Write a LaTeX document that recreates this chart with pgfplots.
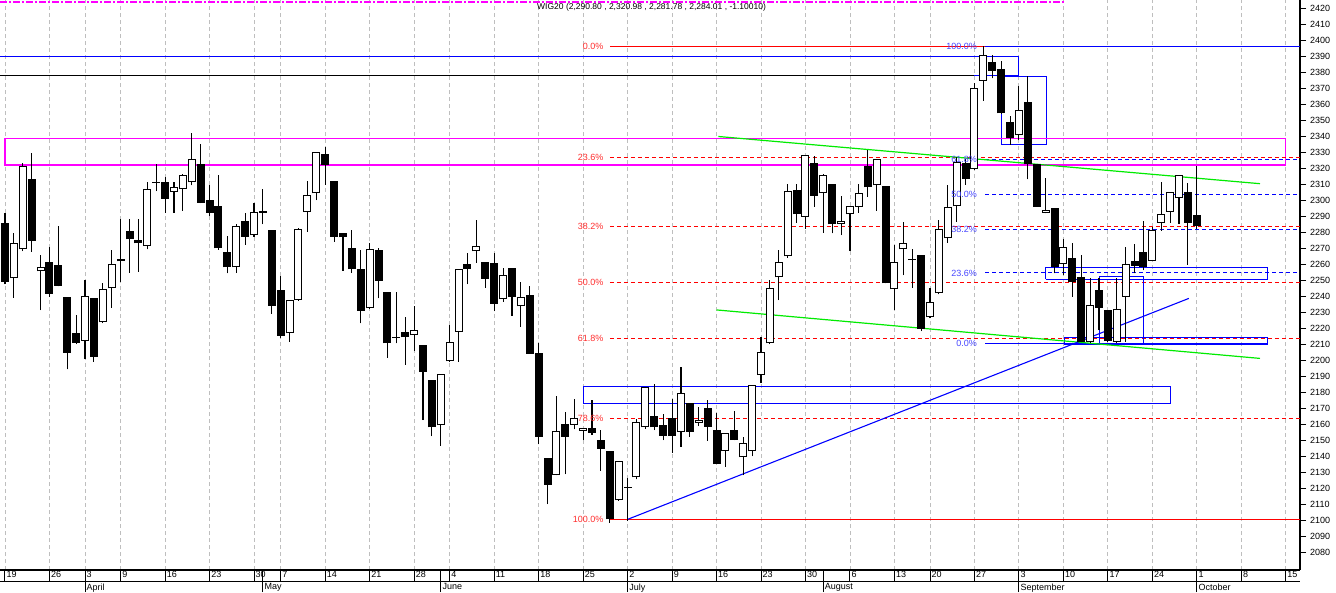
\documentclass[border=0pt]{standalone}
\usepackage{pgfplots}
\pgfplotsset{compat=1.18}
\usepackage{pgfplotstable}
\usepackage{fontspec}
\setmainfont{Liberation Sans}
\definecolor{gridgray}{RGB}{190,190,190}
\definecolor{mag}{RGB}{255,0,255}
\definecolor{grn}{RGB}{0,235,0}
\definecolor{fibred}{RGB}{255,45,45}
\definecolor{fibblue}{RGB}{70,70,255}

% black (falling) candles: index, open, high, low, close
\pgfplotstableread{
i O H L C
0 2285.4 2291.7 2247.5 2249.0
3 2312.9 2329.2 2267.7 2274.6
5 2261.2 2270.8 2239.6 2241.5
6 2259.4 2283.7 2246.0 2246.5
7 2239.4 2239.4 2194.2 2204.6
8 2217.1 2228.1 2210.0 2210.8
10 2238.7 2238.7 2199.0 2202.1
13 2263.2 2288.1 2249.0 2261.7
14 2280.6 2288.1 2254.6 2275.4
15 2275.0 2288.1 2255.2 2272.9
17 2311.4 2322.3 2305.6 2310.6
18 2311.0 2314.2 2292.0 2300.8
22 2322.3 2334.8 2298.0 2298.3
23 2300.0 2309.4 2290.2 2292.1
24 2296.2 2315.6 2269.0 2269.8
25 2267.5 2277.5 2254.2 2257.9
27 2286.9 2291.7 2271.9 2277.1
29 2292.9 2306.7 2285.0 2292.1
30 2281.2 2281.2 2229.0 2234.0
31 2243.7 2252.5 2213.5 2215.2
36 2328.7 2333.3 2309.4 2322.1
37 2311.9 2312.0 2274.0 2277.1
38 2279.2 2279.5 2255.8 2276.7
39 2269.8 2281.2 2254.6 2256.7
40 2256.7 2268.7 2222.9 2230.8
42 2268.5 2269.8 2238.5 2249.6
43 2242.3 2242.3 2201.5 2210.4
44 2214.4 2242.3 2210.4 2213.6
45 2217.3 2226.7 2196.9 2214.2
47 2209.4 2209.4 2162.5 2192.7
48 2187.5 2187.5 2152.5 2157.9
52 2260.0 2266.7 2247.5 2257.1
54 2261.0 2261.0 2245.2 2250.8
55 2260.4 2266.7 2230.6 2235.2
57 2257.3 2257.3 2227.7 2239.6
59 2240.6 2246.2 2204.0 2204.0
60 2204.4 2210.8 2147.3 2152.1
61 2138.5 2138.5 2110.0 2121.9
63 2159.8 2167.7 2128.7 2152.1
66 2157.3 2175.0 2153.3 2154.6
67 2150.0 2156.2 2130.8 2144.6
68 2143.1 2143.1 2098.3 2100.4
70 2120.8 2126.0 2099.6 2120.0
73 2165.0 2185.0 2156.2 2157.9
74 2159.4 2166.2 2150.0 2152.7
75 2164.0 2175.4 2142.1 2152.7
77 2172.9 2173.0 2152.0 2155.2
79 2169.8 2175.0 2149.6 2158.3
80 2156.2 2167.0 2135.0 2135.0
82 2156.2 2168.0 2150.0 2150.0
89 2306.2 2310.0 2285.8 2291.0
91 2322.9 2327.5 2295.8 2302.7
93 2310.0 2310.0 2279.2 2284.8
97 2321.2 2331.2 2302.1 2307.9
99 2308.7 2308.7 2247.9 2247.9
102 2263.3 2269.4 2245.2 2262.5
103 2265.6 2265.6 2218.0 2219.4
108 2323.0 2325.6 2309.4 2313.0
111 2386.0 2390.6 2376.0 2380.8
112 2381.9 2387.0 2354.0 2354.2
113 2348.7 2352.5 2334.4 2339.0
115 2361.2 2377.5 2312.9 2322.5
116 2322.5 2322.5 2295.8 2295.8
118 2294.8 2294.8 2254.2 2258.3
120 2263.5 2272.9 2239.6 2249.0
121 2252.0 2265.6 2211.0 2211.5
123 2243.7 2251.0 2218.7 2232.7
124 2231.2 2231.2 2211.5 2212.0
127 2261.9 2272.5 2254.2 2258.7
128 2267.5 2286.9 2256.2 2257.9
133 2305.0 2310.4 2259.4 2285.8
134 2290.80 2320.98 2281.78 2284.01
}\blackc

% white (rising) candles
\pgfplotstableread{
i O H L C
1 2251.0 2279.2 2239.0 2272.9
2 2269.2 2322.9 2268.0 2321.2
4 2255.4 2265.6 2231.2 2257.9
9 2211.9 2250.0 2200.6 2239.8
11 2223.5 2247.9 2223.0 2244.2
12 2244.8 2268.7 2232.7 2259.8
16 2271.2 2311.2 2269.2 2306.7
19 2305.0 2311.0 2292.0 2308.3
20 2306.7 2316.2 2293.3 2315.4
21 2311.0 2341.7 2309.2 2325.4
26 2257.9 2285.0 2254.6 2283.5
28 2277.9 2298.3 2277.0 2292.5
32 2216.7 2237.3 2211.5 2237.3
33 2237.3 2282.7 2237.0 2281.9
34 2292.5 2311.9 2280.2 2303.0
35 2304.2 2330.0 2300.0 2329.8
41 2232.3 2272.9 2232.0 2269.2
46 2215.4 2233.7 2205.8 2218.5
49 2159.2 2191.0 2146.5 2191.0
50 2199.2 2221.9 2199.0 2211.0
51 2217.7 2256.7 2199.0 2256.7
53 2267.9 2287.5 2260.8 2271.0
56 2237.9 2257.5 2236.5 2253.0
58 2233.5 2248.5 2220.8 2239.2
62 2128.1 2177.5 2128.0 2155.4
64 2159.4 2175.4 2156.7 2164.0
65 2155.8 2157.6 2150.0 2157.4
69 2112.3 2136.7 2112.0 2136.7
71 2126.7 2162.9 2125.4 2161.0
72 2157.9 2183.3 2157.0 2183.3
76 2155.2 2195.8 2145.8 2179.2
78 2160.8 2170.8 2158.7 2162.5
81 2142.9 2154.2 2133.3 2154.2
83 2139.2 2151.7 2128.1 2147.9
84 2142.9 2184.2 2140.0 2184.2
85 2190.6 2214.2 2185.8 2205.2
86 2210.4 2250.0 2210.0 2244.8
87 2251.7 2268.7 2237.5 2261.0
88 2264.8 2310.0 2264.0 2305.4
90 2289.6 2328.0 2281.9 2327.9
92 2304.2 2316.0 2279.6 2315.4
94 2285.0 2302.5 2278.1 2287.1
95 2291.0 2296.0 2268.3 2296.0
96 2295.8 2310.0 2292.1 2304.2
98 2309.2 2325.4 2293.3 2325.4
100 2244.2 2271.9 2231.2 2261.0
101 2269.2 2286.0 2253.1 2272.9
104 2226.7 2244.8 2226.0 2236.5
105 2241.7 2287.5 2241.0 2281.7
106 2276.0 2309.4 2273.3 2295.8
107 2296.0 2327.0 2286.5 2323.5
109 2319.2 2373.3 2319.0 2369.8
110 2374.6 2396.2 2362.1 2390.6
114 2340.4 2371.5 2337.5 2356.0
117 2291.9 2314.0 2291.7 2293.7
119 2259.8 2275.4 2253.1 2270.8
122 2211.5 2251.0 2210.4 2234.2
125 2211.5 2251.0 2210.4 2231.7
126 2239.6 2270.4 2211.5 2259.8
129 2262.0 2283.3 2262.0 2281.0
130 2285.8 2311.2 2280.8 2291.2
131 2292.7 2304.8 2285.8 2304.8
132 2301.0 2315.4 2285.0 2315.4
}\whitec

\pgfplotsset{
  candle/.style={only marks, mark=*, mark size=0pt, mark options={draw=none, fill=none}, forget plot,
    error bars/.cd, y dir=plus, y explicit, error mark=none,
    error bar style={line width=#1, solid}},
}

\begin{document}
\begin{tikzpicture}
\useasboundingbox (0,0) rectangle (1336pt,-592pt);
\begin{axis}[
  at={(0pt,0pt)}, anchor=north west,
  scale only axis, width=1300pt, height=570pt,
  xmin=-0.56, xmax=145.6, ymin=2068.75, ymax=2425,
  axis x line=bottom, axis y line=right,
  axis line style={-, line width=1.2pt, black},
  clip mode=individual,
  tick align=outside,
  tick style={black, line width=1pt},
  major tick length=11.7pt, minor tick length=3pt,
  ytick=\empty,
  extra y ticks={2080,2090,...,2420},
  extra y tick style={major tick length=6pt, yticklabel style={anchor=west, inner sep=0pt, xshift=4pt, font=\fontsize{9}{10}\selectfont}},
  minor ytick={2070,2075,...,2425},
  xtick={0,5,9,13,18,23,28,31,36,41,46,50,55,60,65,70,75,80,85,90,95,100,104,109,114,119,124,129,134,139,144},
  xticklabels={19,26,3,9,16,23,30,7,14,21,28,4,11,18,25,2,9,16,23,30,6,13,20,27,3,10,17,24,1,8,15},
  xticklabel style={anchor=north west, inner sep=0pt, xshift=1.5pt, yshift=10.2pt, font=\fontsize{9}{10}\selectfont},
  extra x ticks={9,29,49,70,92,114,134},
  extra x tick labels={April,May,June,July,August,September,October},
  extra x tick style={grid=none, major tick length=22pt, xticklabel style={yshift=-1.7pt}},
  xmajorgrids,
  major x grid style={gridgray, dash pattern=on 4pt off 3pt, line width=0.9pt},
  /pgf/number format/1000 sep={},
  /pgf/number format/assume math mode=true,
]
% --- annotations ---
\addplot[mag, line width=1.5pt, dash pattern=on 7pt off 2pt on 2pt off 2pt, forget plot] coordinates {(-0.56,2423.9) (119.2,2423.9)};
\addplot[red, line width=1pt, forget plot] coordinates {(68.0,2396.25) (110.2,2396.25)};
\addplot[blue, line width=1pt, forget plot] coordinates {(110.2,2396.25) (145.6,2396.25)};
\addplot[blue, line width=1pt, forget plot] coordinates {(-0.6,2389.8) (114.0,2389.8) (114.0,2378.1) (-0.6,2378.1)};
\addplot[black, line width=1pt, forget plot] coordinates {(-0.6,2378.1) (109.0,2378.1)};
\addplot[blue, line width=1pt, forget plot] coordinates {(112.0,2376.9) (117.1,2376.9) (117.1,2334.4) (112.0,2334.4) (112.0,2376.9)};
\addplot[mag, line width=1.2pt, forget plot] coordinates {(0,2338.5) (144.0,2338.5) (144.0,2321.9) (0,2321.9) (0,2338.5)};
% red fibonacci levels
\addplot[red, line width=1pt, dash pattern=on 4pt off 3pt, forget plot] coordinates {(68.0,2326.43) (145.6,2326.43)};
\addplot[red, line width=1pt, dash pattern=on 4pt off 3pt, forget plot] coordinates {(68.0,2283.23) (145.6,2283.23)};
\addplot[red, line width=1pt, dash pattern=on 4pt off 3pt, forget plot] coordinates {(68.0,2248.33) (145.6,2248.33)};
\addplot[red, line width=1pt, dash pattern=on 4pt off 3pt, forget plot] coordinates {(68.0,2213.41) (145.6,2213.41)};
\addplot[red, line width=1pt, dash pattern=on 4pt off 3pt, forget plot] coordinates {(68.0,2163.71) (145.6,2163.71)};
\addplot[red, line width=1.1pt, forget plot] coordinates {(68.0,2100.3) (145.6,2100.3)};
% blue fibonacci levels
\addplot[blue, line width=1pt, dash pattern=on 4pt off 3pt, forget plot] coordinates {(110.2,2325.33) (145.6,2325.33)};
\addplot[blue, line width=1pt, dash pattern=on 4pt off 3pt, forget plot] coordinates {(110.2,2303.4) (145.6,2303.4)};
\addplot[blue, line width=1pt, dash pattern=on 4pt off 3pt, forget plot] coordinates {(110.2,2281.5) (145.6,2281.5)};
\addplot[blue, line width=1pt, dash pattern=on 4pt off 3pt, forget plot] coordinates {(110.2,2254.4) (145.6,2254.4)};
\addplot[blue, line width=1pt, forget plot] coordinates {(110.2,2210.6) (142.0,2210.6)};
% rectangles
\addplot[blue, line width=1pt, forget plot] coordinates {(117.0,2250.4) (142.0,2250.4) (142.0,2257.9) (117.0,2257.9) (117.0,2250.4)};
\addplot[blue, line width=1pt, forget plot] coordinates {(123.1,2210.4) (128.0,2210.4) (128.0,2252.5) (123.1,2252.5) (123.1,2210.4)};
\addplot[blue, line width=1pt, forget plot] coordinates {(119.1,2210.0) (142.0,2210.0) (142.0,2214.2) (119.1,2214.2) (119.1,2210.0)};
\addplot[blue, line width=1pt, forget plot] coordinates {(65.0,2173.1) (131.0,2173.1) (131.0,2183.75) (65.0,2183.75) (65.0,2173.1)};
% trend lines
\addplot[grn, line width=1.2pt, forget plot] coordinates {(80.2,2339.7) (141.1,2310.2)};
\addplot[grn, line width=1.2pt, forget plot] coordinates {(80.0,2231.3) (141.1,2201.0)};
\addplot[blue, line width=1.1pt, forget plot] coordinates {(70.0,2100.4) (133.1,2238.5)};
% --- candles: wicks ---
\addplot[candle=1.1pt, error bar style={draw=black}]
  table[x=i, y=L, y error expr=\thisrow{H}-\thisrow{L}] {\blackc};
\addplot[candle=1.1pt, error bar style={draw=black}]
  table[x=i, y=L, y error expr=\thisrow{H}-\thisrow{L}] {\whitec};
% bodies
\addplot[candle=8pt, error bar style={draw=black}]
  table[x=i, y=C, y error expr=\thisrow{O}-\thisrow{C}] {\blackc};
\addplot[candle=8pt, error bar style={draw=black}]
  table[x=i, y=O, y error expr=\thisrow{C}-\thisrow{O}] {\whitec};
\addplot[candle=6pt, error bar style={draw=white}]
  table[x=i, y expr=\thisrow{O}+0.625, y error expr=\thisrow{C}-\thisrow{O}-1.25] {\whitec};
% --- fibonacci labels ---
\begin{scope}[every node/.style={anchor=east, inner sep=0pt, font=\fontsize{9}{10}\selectfont}]
\node[text=fibred] at (axis cs:67.3,2396.25) {0.0\%};
\node[text=fibred] at (axis cs:67.3,2326.43) {23.6\%};
\node[text=fibred] at (axis cs:67.3,2283.23) {38.2\%};
\node[text=fibred] at (axis cs:67.3,2248.33) {50.0\%};
\node[text=fibred] at (axis cs:67.3,2213.41) {61.8\%};
\node[text=fibred] at (axis cs:67.3,2163.71) {78.6\%};
\node[text=fibred] at (axis cs:67.3,2100.3) {100.0\%};
\node[text=fibblue] at (axis cs:109.3,2396.25) {100.0\%};
\node[text=fibblue] at (axis cs:109.3,2325.33) {61.8\%};
\node[text=fibblue] at (axis cs:109.3,2303.4) {50.0\%};
\node[text=fibblue] at (axis cs:109.3,2281.5) {38.2\%};
\node[text=fibblue] at (axis cs:109.3,2254.4) {23.6\%};
\node[text=fibblue] at (axis cs:109.3,2210.6) {0.0\%};
\end{scope}
\end{axis}
\draw[line width=1.2pt] (0pt,-581.7pt) -- (1300pt,-581.7pt);
\node[anchor=west, inner sep=0pt, font=\fontsize{8.5}{10}\selectfont] at (537pt,-7pt) {WIG20 (2,290.80 , 2,320.98 , 2,281.78 , 2,284.01 , -1.10010)};
\end{tikzpicture}
\end{document}
